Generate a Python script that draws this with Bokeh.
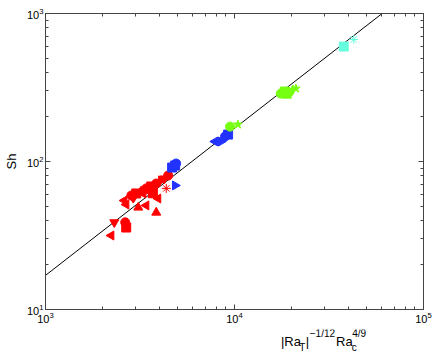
import math
from bokeh.plotting import figure
from bokeh.layouts import column
from bokeh.models import (LogAxis, ColumnDataSource, FixedTicker,
                          LogTickFormatter, CustomJSTickFormatter)
from bokeh.core.properties import value
from bokeh.embed import file_html
from bokeh.resources import INLINE

# ---------------- data ----------------
red_x = [2312, 2228, 2642, 2674, 2674, 3097, 3412, 3945, 3855, 2845, 3020, 3211,
         3412, 3625, 3855, 4093, 3290, 4457, 4355, 4250, 3540, 2612, 2912, 3700]
red_y = [38.8, 31.6, 38.8, 35.8, 51.2, 48.9, 50.5, 56.2, 45.2, 58.9, 60.8, 63.7,
         65.8, 67.8, 71.0, 74.5, 60.8, 80.4, 65.8, 76.7, 63.7, 54.5, 56.2, 61.0]
red_m = ["tri_down", "tri_left", "circle", "square", "tri_left", "tri_up", "tri_left",
         "tri_left", "tri_up", "circle", "square", "diamond", "circle", "square",
         "circle", "tri_right", "tri_left", "circle", "asterisk", "tri_down", "star",
         "tri_left", "diamond", "square"]

blue_x = [4677, 4909, 4851, 4851, 7889, 8492, 9250, 8913]
blue_y = [91.0, 96.9, 93.9, 68.9, 136.5, 136.5, 152.0, 147.5]
blue_m = ["square", "circle", "square", "tri_right", "tri_left", "tri_right", "square", "circle"]

green_x = [9466, 10420, 17580, 18450, 19400, 20370, 18930, 21140]
green_y = [172, 178, 287.6, 297, 292, 306, 279, 311]
green_m = ["circle", "star", "circle", "square", "circle", "diamond", "tri_up", "star"]

cyan_x = [37850, 42760]
cyan_y = [598, 667]
cyan_m = ["square", "asterisk"]

fit_x = [1e3, 1e5]
fit_y = [17, 1650]

y_major = [10, 100, 1000]
y_minor = [20, 30, 40, 50, 60, 70, 80, 90, 200, 300, 400, 500, 600, 700, 800, 900]
x_major = [1e3, 1e4, 1e5]
x_minor = [2e3, 3e3, 4e3, 5e3, 6e3, 7e3, 8e3, 9e3, 2e4, 3e4, 4e4, 5e4, 6e4, 7e4, 8e4, 9e4]

MARK = {
    "circle": ("circle", 0.0), "square": ("square", 0.0), "diamond": ("diamond", 0.0),
    "star": ("star", 0.0), "asterisk": ("asterisk", 0.0),
    "tri_up": ("triangle", 0.0), "tri_down": ("inverted_triangle", 0.0),
    "tri_left": ("triangle", math.pi / 2), "tri_right": ("triangle", -math.pi / 2),
}

FONT = "Liberation Sans"
AX = "#444444"

p = figure(width=432, height=329, x_axis_type="log", y_axis_type="log",
           x_range=(1e3, 1e5), y_range=(1e1, 1e3),
           output_backend="svg", toolbar_location=None,
           min_border_left=44, min_border_right=9, min_border_top=13, min_border_bottom=20)
p.grid.visible = False
p.outline_line_color = AX
p.outline_line_width = 1
p.background_fill_color = "white"
p.border_fill_color = "white"

p.xaxis[0].ticker = FixedTicker(ticks=x_major, minor_ticks=x_minor)
p.yaxis[0].ticker = FixedTicker(ticks=y_major, minor_ticks=y_minor)
p.xaxis[0].formatter = LogTickFormatter()
p.yaxis[0].formatter = LogTickFormatter()

for ax in (p.xaxis[0], p.yaxis[0]):
    ax.axis_line_color = AX
    ax.major_tick_line_color = AX
    ax.minor_tick_line_color = AX
    ax.major_tick_in = 5
    ax.major_tick_out = 0
    ax.minor_tick_in = 3
    ax.minor_tick_out = 0
    ax.major_label_text_font = FONT
    ax.major_label_text_font_size = "11px"
    ax.major_label_text_color = "black"
    ax.major_label_standoff = 2

p.yaxis[0].axis_label = "Sh"
p.yaxis[0].axis_label_text_font = FONT
p.yaxis[0].axis_label_text_font_size = "13px"
p.yaxis[0].axis_label_text_font_style = "normal"
p.yaxis[0].axis_label_text_color = "black"
p.yaxis[0].axis_label_standoff = 5

for loc, maj, mnr in (("above", x_major, x_minor), ("right", y_major, y_minor)):
    a = LogAxis(ticker=FixedTicker(ticks=maj, minor_ticks=mnr),
                formatter=CustomJSTickFormatter(code="return ''"))
    a.axis_line_color = AX
    a.major_tick_line_color = AX
    a.minor_tick_line_color = AX
    a.major_tick_in = 5
    a.major_tick_out = 0
    a.minor_tick_in = 3
    a.minor_tick_out = 0
    a.major_label_standoff = 0
    p.add_layout(a, loc)

p.line(fit_x, fit_y, line_color="black", line_width=1)


def add_group(xs, ys, ms, color, size=9):
    src = ColumnDataSource(dict(
        x=xs, y=ys,
        marker=[MARK[m][0] for m in ms],
        angle=[MARK[m][1] for m in ms],
    ))
    p.scatter("x", "y", source=src, marker="marker", angle="angle", size=size,
              fill_color=color, line_color=color, line_width=1)


add_group(red_x, red_y, red_m, "#ff0000")
add_group(blue_x, blue_y, blue_m, "#2233ff")
add_group(green_x, green_y, green_m, "#77ff11")
add_group(cyan_x, cyan_y, cyan_m, "#66ffdd")

# x-axis label strip, drawn as real text (pixel coordinates of the strip)
H2 = 23
p2 = figure(width=432, height=H2, x_range=(0, 432), y_range=(0, H2),
            output_backend="svg", toolbar_location=None,
            x_axis_location=None, y_axis_location=None, min_border=0)
p2.grid.visible = False
p2.outline_line_color = None
p2.border_fill_color = "white"

main_t, main_x, main_y = ["|Ra", "|", "Ra"], [269, 297.5, 332], [11, 11, 11]
sub_t, sub_x, sub_y = ["T", "c"], [290, 350], [5.5, 5.5]
sup_t, sup_x, sup_y = ["\u22121/12", "4/9"], [302, 350.5], [19.5, 19.5]

p2.text(main_x, main_y, text=main_t, text_font=value(FONT), text_font_size="13px",
        text_baseline="alphabetic", text_align="left", text_color="black")
for tt, xx, yy in ((sub_t, sub_x, sub_y), (sup_t, sup_x, sup_y)):
    p2.text(xx, yy, text=tt, text_font=value(FONT), text_font_size="10px",
            text_baseline="alphabetic", text_align="left", text_color="black")

layout = column(p, p2, spacing=0)
open("out.html", "w").write(file_html(layout, INLINE))
